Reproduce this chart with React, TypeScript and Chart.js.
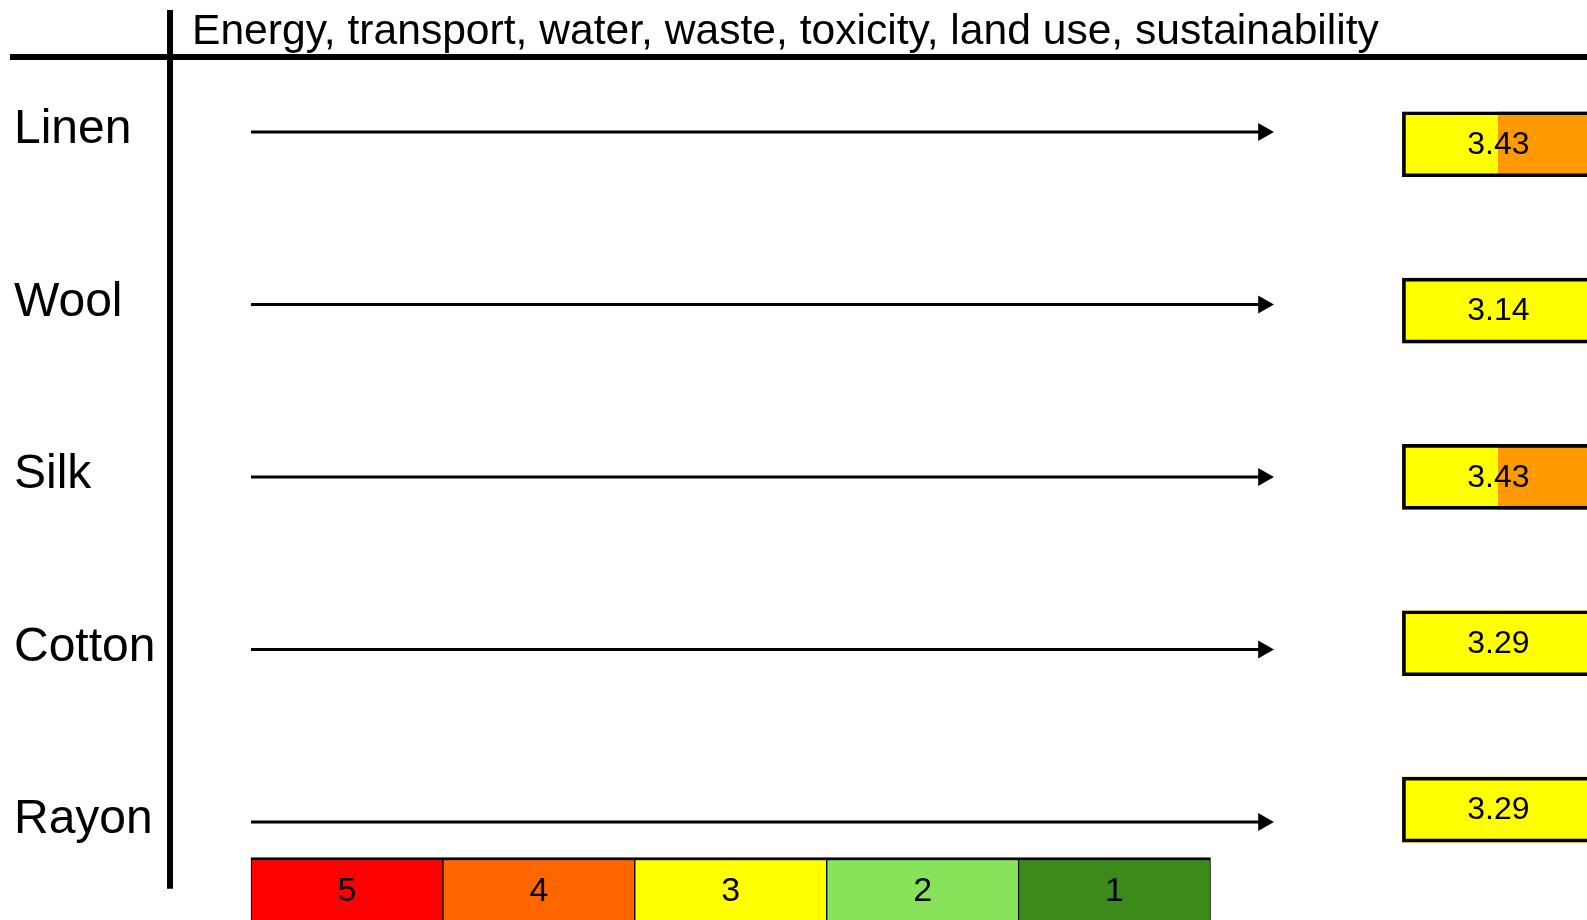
import React, { useEffect, useRef } from 'react';
import { Chart, registerables } from 'chart.js';

Chart.register(...registerables);

// ---- data ----
const rowLabels = ['Linen', 'Wool', 'Silk', 'Cotton', 'Rayon'];
const scores = [3.43, 3.14, 3.43, 3.29, 3.29];
const scoreLeftColors = ['#FFFF00', '#FFFF00', '#FFFF00', '#FFFF00', '#FFFF00'];
const scoreRightColors = ['#FF9900', '#FFFF00', '#FF9900', '#FFFF00', '#FFFF00'];
const scaleLabels = ['5', '4', '3', '2', '1'];
const scaleColors = ['#FF0000', '#FF6600', '#FFFF00', '#88E35A', '#3C8A1A'];
const headerText = 'Energy, transport, water, waste, toxicity, land use, sustainability';

// ---- layout (in scale units) ----
const X_MIN = -1.308;
const X_MAX = 6.962;
const Y_MIN = -0.7652;
const Y_MAX = 4.5681;
const Y2_MIN = -0.8674;
const Y2_MAX = 4.6637;
const ARROW_START = 0;
const ARROW_END = 5.276;
const BOX_START = 6;
const BOX_SPLIT = 6.5;
const BOX_END = 7;
const LEGEND_ROW = 4.4;
const HEADER_ROW = -0.435;
const HEADER_LEFT = -1.256;
const DIVIDER_COL = -0.422;
const DIVIDER_TOP = -0.707;
const DIVIDER_BOTTOM = 4.387;
const LABEL_COL = -1.235;
const FONT = '"Liberation Sans", Arial, Helvetica, sans-serif';

const textPlugin = {
  id: 'textPlugin',
  afterDatasetsDraw(chart: any) {
    const ctx = chart.ctx as CanvasRenderingContext2D;
    const xs = chart.scales.x;
    const ys = chart.scales.y;
    const ys2 = chart.scales.y2;
    ctx.save();
    ctx.fillStyle = '#000';

    // header
    ctx.font = `42.6px ${FONT}`;
    ctx.textAlign = 'left';
    ctx.textBaseline = 'alphabetic';
    ctx.fillText(headerText, xs.getPixelForValue(DIVIDER_COL) + 22, ys.getPixelForValue(HEADER_ROW) - 12.5);

    // row labels
    ctx.font = `48px ${FONT}`;
    ctx.textBaseline = 'middle';
    rowLabels.forEach((lab, i) => {
      ctx.fillText(lab, xs.getPixelForValue(LABEL_COL), ys.getPixelForValue(i) - 2);
    });

    // scores
    ctx.font = `32px ${FONT}`;
    ctx.textAlign = 'center';
    scores.forEach((s, i) => {
      ctx.fillText(s.toFixed(2), xs.getPixelForValue(BOX_SPLIT), ys2.getPixelForValue(i) + 1);
    });

    // legend numbers
    ctx.font = `34px ${FONT}`;
    scaleLabels.forEach((lab, i) => {
      ctx.fillText(lab, xs.getPixelForValue(i + 0.5), ys.getPixelForValue(LEGEND_ROW) + 1);
    });
    ctx.restore();
  },
};

export default function App() {
  const ref = useRef<HTMLCanvasElement | null>(null);

  useEffect(() => {
    document.body.style.margin = '0';
    const canvas = ref.current;
    if (!canvas) return;

    const arrowSets = rowLabels.map((_, i) => ({
      type: 'line',
      data: [
        { x: ARROW_START, y: i },
        { x: ARROW_END, y: i },
      ],
      borderColor: '#000',
      borderWidth: 3,
      pointRadius: [0, 10.5],
      pointStyle: 'triangle',
      pointRotation: 90,
      pointBackgroundColor: '#000',
      pointBorderWidth: 0,
      fill: false,
      order: 1,
    }));

    const chart = new Chart(canvas, {
      type: 'bar',
      data: {
        datasets: [
          ...arrowSets,
          {
            type: 'line',
            data: [
              { x: HEADER_LEFT, y: HEADER_ROW },
              { x: X_MAX + 1, y: HEADER_ROW },
            ],
            borderColor: '#000',
            borderWidth: 6,
            pointRadius: 0,
            fill: false,
            order: 1,
          },
          {
            type: 'line',
            data: [
              { x: DIVIDER_COL, y: DIVIDER_TOP },
              { x: DIVIDER_COL, y: DIVIDER_BOTTOM },
            ],
            borderColor: '#000',
            borderWidth: 6,
            pointRadius: 0,
            fill: false,
            order: 1,
          },
          {
            type: 'bar',
            indexAxis: 'y',
            yAxisID: 'y2',
            grouped: false,
            data: scores.map((_, i) => ({ x: [BOX_START, BOX_SPLIT], y: i })),
            backgroundColor: scoreLeftColors,
            borderWidth: 0,
            barThickness: 65,
            order: 4,
          },
          {
            type: 'bar',
            indexAxis: 'y',
            yAxisID: 'y2',
            grouped: false,
            data: scores.map((_, i) => ({ x: [BOX_SPLIT, BOX_END], y: i })),
            backgroundColor: scoreRightColors,
            borderWidth: 0,
            barThickness: 65,
            order: 3,
          },
          {
            type: 'bar',
            indexAxis: 'y',
            yAxisID: 'y2',
            grouped: false,
            data: scores.map((_, i) => ({ x: [BOX_START, BOX_END], y: i })),
            backgroundColor: 'rgba(0,0,0,0)',
            borderColor: '#000',
            borderWidth: 3,
            borderSkipped: false,
            barThickness: 65,
            order: 2,
          },
          {
            type: 'bar',
            indexAxis: 'y',
            grouped: false,
            data: scaleLabels.map((_, i) => ({ x: [i, i + 1], y: LEGEND_ROW })),
            backgroundColor: scaleColors,
            borderColor: '#000',
            borderWidth: { top: 3, left: 1, right: 1, bottom: 0 },
            borderSkipped: false,
            barThickness: 67,
            order: 2,
          },
        ] as any,
      },
      options: {
        animation: false,
        responsive: false,
        devicePixelRatio: 1,
        events: [],
        layout: { padding: 0, autoPadding: false },
        plugins: {
          legend: { display: false },
          tooltip: { enabled: false },
          title: { display: false },
        },
        scales: {
          x: { type: 'linear', display: false, min: X_MIN, max: X_MAX, offset: false },
          y: { type: 'linear', display: false, min: Y_MIN, max: Y_MAX, reverse: true, offset: false },
          y2: { type: 'linear', axis: 'y', display: false, min: Y2_MIN, max: Y2_MAX, reverse: true, offset: false },
        },
      } as any,
      plugins: [textPlugin],
    });

    return () => chart.destroy();
  }, []);

  return (
    <div style={{ position: 'absolute', left: 0, top: 0, width: 1587, height: 920, background: '#fff' }}>
      <canvas ref={ref} width={1587} height={920} style={{ display: 'block', width: 1587, height: 920 }} />
    </div>
  );
}
